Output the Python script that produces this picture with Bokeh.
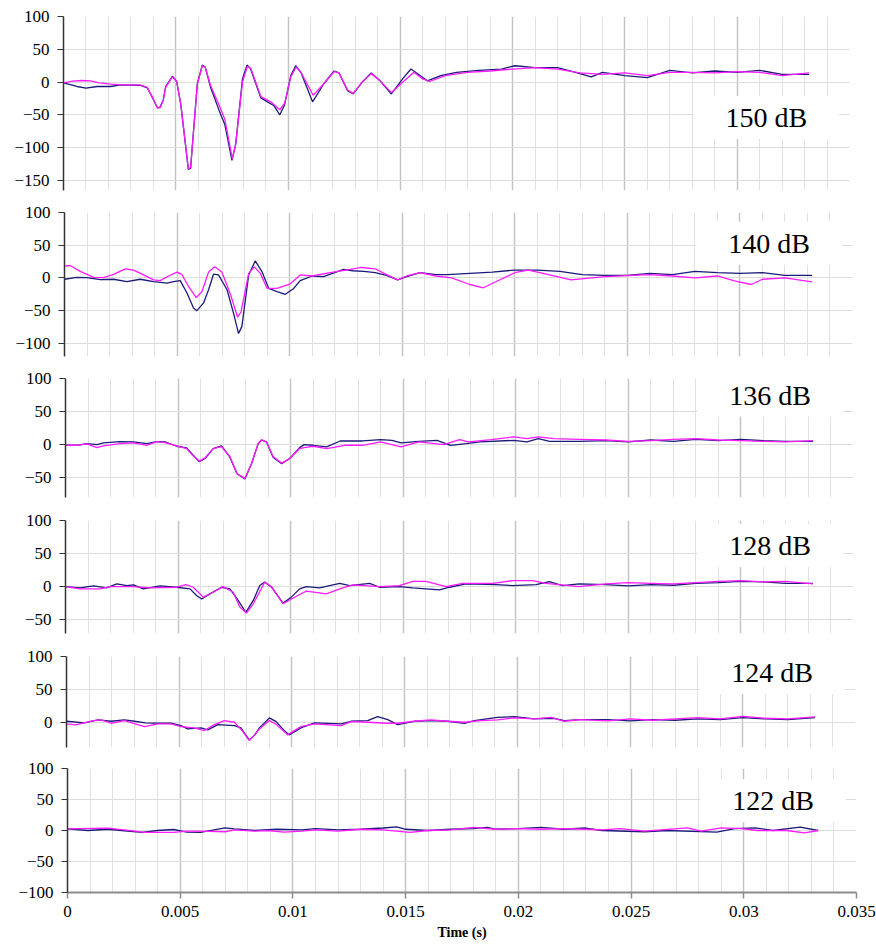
from bokeh.plotting import figure
from bokeh.models import FixedTicker, Label, ColumnDataSource
from bokeh.layouts import column
from bokeh.embed import file_html
from bokeh.resources import INLINE

# ---------------- data ----------------
x_ticks = [0, 0.005, 0.01, 0.015, 0.02, 0.025, 0.03, 0.035]
x_tick_labels = ["0", "0.005", "0.01", "0.015", "0.02", "0.025", "0.03", "0.035"]
panel_labels = ["150 dB", "140 dB", "136 dB", "128 dB", "124 dB", "122 dB"]

t_150_navy = [0, 0.0006, 0.001, 0.0015, 0.0021, 0.00254, 0.00343, 0.00373, 0.00395, 0.00418, 0.0043, 0.00444, 0.00455, 0.00485, 0.00504, 0.00522, 0.00541, 0.00556, 0.00566, 0.00574, 0.00596, 0.00618, 0.00631, 0.00655, 0.00693, 0.00718, 0.0075, 0.00767, 0.00797, 0.00817, 0.00832, 0.00879, 0.00908, 0.00938, 0.00963, 0.00985, 0.01012, 0.01034, 0.01057, 0.01109, 0.0116, 0.01205, 0.01227, 0.01265, 0.0129, 0.0133, 0.0137, 0.0141, 0.0146, 0.0151, 0.01547, 0.0158, 0.0162, 0.0168, 0.0175, 0.0185, 0.0195, 0.0201, 0.021, 0.022, 0.0228, 0.0235, 0.024, 0.025, 0.026, 0.027, 0.028, 0.029, 0.030, 0.031, 0.032, 0.0332]
v_150_navy = [-1, -6.6, -9, -6.6, -6.6, -4, -5, -8.6, -23, -39, -38, -27, -6.6, 9, 1, -33, -89, -133, -131, -96, -2, 26, 23, -8, -43, -64, -119, -94, 5, 26, 21, -24, -30, -36, -50, -34, 10, 25, 15, -30, -2, 17, 14, -13, -18, 0, 14, 2, -18, 5, 20, 12, 2, 10, 15, 18, 20, 25, 22, 22, 15, 8, 15, 10, 7, 18, 14, 17, 15, 18, 12, 12]
t_150_mag = [0, 0.0004, 0.0008, 0.0012, 0.0016, 0.0021, 0.0026, 0.0034, 0.00373, 0.00395, 0.00418, 0.0043, 0.00444, 0.00455, 0.00485, 0.00504, 0.00522, 0.00541, 0.00556, 0.00566, 0.00574, 0.00596, 0.00618, 0.00631, 0.00655, 0.00693, 0.00718, 0.00752, 0.00767, 0.00797, 0.00819, 0.00834, 0.00879, 0.00923, 0.00963, 0.00985, 0.01012, 0.01036, 0.01057, 0.01112, 0.0116, 0.01205, 0.01227, 0.01265, 0.0129, 0.0133, 0.0137, 0.0141, 0.0146, 0.0151, 0.0156, 0.016, 0.0163, 0.017, 0.018, 0.019, 0.02, 0.021, 0.022, 0.023, 0.024, 0.025, 0.026, 0.027, 0.028, 0.029, 0.030, 0.031, 0.032, 0.0332]
v_150_mag = [-1, 1.5, 2.5, 2, -1, -3, -4, -4, -8, -22, -39, -39, -28, -8, 8, 1, -33, -88, -132, -130, -96, -3, 25, 23, -5, -35, -56, -117, -94, 0, 24, 21, -22, -30, -42, -32, 8, 23, 15, -20, -2, 16, 14, -12, -17, 0, 13, 2, -16, 0, 15, 5, 1, 10, 15, 17, 20, 22, 20, 14, 12, 14, 10, 15, 15, 14, 16, 15, 10, 14]

t_140_navy = [0, 0.00055, 0.001, 0.00159, 0.00218, 0.00277, 0.00336, 0.00396, 0.00455, 0.00484, 0.00514, 0.00544, 0.00573, 0.00588, 0.00618, 0.0064, 0.00662, 0.00684, 0.00722, 0.00751, 0.00773, 0.00788, 0.00818, 0.00847, 0.00877, 0.00907, 0.00944, 0.00981, 0.01018, 0.01047, 0.011, 0.0115, 0.012, 0.0124, 0.0128, 0.0133, 0.0138, 0.0143, 0.0148, 0.0152, 0.0158, 0.0165, 0.017, 0.018, 0.019, 0.020, 0.021, 0.022, 0.023, 0.024, 0.025, 0.026, 0.027, 0.028, 0.029, 0.030, 0.031, 0.032, 0.0332]
v_140_navy = [-2, 1, 0.5, -2.5, -2, -5.6, -2, -5.6, -8, -5.6, -4, -23, -46, -50, -38, -18, 6, 4.6, -18, -54, -85, -74, 4.6, 26, 9.7, -16, -21, -25, -16, -4, 3, 2, 8, 13, 11, 10, 8, 4, -3, 2, 8, 5, 5, 7, 9, 12, 12, 10, 5, 4, 4, 7, 5, 10, 8, 7, 8, 4, 4]
t_140_mag = [0, 0.00025, 0.0007, 0.00129, 0.00174, 0.00218, 0.0027, 0.00307, 0.00351, 0.00396, 0.00425, 0.00462, 0.005, 0.00521, 0.00551, 0.00585, 0.0061, 0.0064, 0.00667, 0.00699, 0.00736, 0.00769, 0.00784, 0.00818, 0.00843, 0.0087, 0.009, 0.00944, 0.01003, 0.01047, 0.011, 0.0118, 0.0125, 0.0132, 0.0138, 0.0143, 0.0148, 0.0152, 0.0158, 0.0165, 0.0172, 0.018, 0.0186, 0.0192, 0.02, 0.0206, 0.0215, 0.0225, 0.024, 0.026, 0.027, 0.028, 0.029, 0.0298, 0.0305, 0.031, 0.032, 0.0332]
v_140_mag = [18, 19, 10, 1, 0.5, 5.6, 14, 12, 4.6, -3, -4, 3, 9, 5.6, -13, -30, -21, 9, 17, 9, -24, -60, -52, 7, 17, 7, -16, -16, -9, 4.6, 3, 8, 12, 16, 14, 5, -3, 3, 8, 3, 0, -10, -15, -5, 8, 12, 5, -3, 2, 5, 3, 0, 3, -5, -10, -2, 0, -6]

t_136_navy = [0, 0.0005, 0.00095, 0.0014, 0.00168, 0.00242, 0.00302, 0.00361, 0.00405, 0.00442, 0.00494, 0.00538, 0.00567, 0.00594, 0.0062, 0.00656, 0.00693, 0.0073, 0.00762, 0.00797, 0.00826, 0.00856, 0.00871, 0.00893, 0.00922, 0.0096, 0.00996, 0.0104, 0.0106, 0.011, 0.0116, 0.0122, 0.0132, 0.014, 0.0145, 0.0149, 0.0157, 0.0165, 0.0171, 0.0178, 0.0184, 0.0199, 0.0205, 0.021, 0.0215, 0.0228, 0.024, 0.025, 0.026, 0.027, 0.028, 0.029, 0.030, 0.031, 0.032, 0.0332]
v_136_navy = [-1, -1, 1.5, 0, 2.5, 4.5, 4, 1.5, 4.5, 4, -2.5, -5, -16, -26, -21, -6, -2, -19, -44, -52, -29, 1.5, 6.6, 4, -19, -29, -21, -4.5, 0, -1, -3.5, 5.5, 5.5, 7.6, 6.5, 2.5, 5, 6.5, -1, 1.5, 4, 6.5, 4, 9, 5, 5, 6, 4, 7, 5, 8, 6, 8, 6, 5, 5]
t_136_mag = [0, 0.0005, 0.00095, 0.0014, 0.00168, 0.00242, 0.00302, 0.00361, 0.00405, 0.00442, 0.00494, 0.00538, 0.00567, 0.00594, 0.0062, 0.00656, 0.00693, 0.0073, 0.00762, 0.00797, 0.00826, 0.00856, 0.00871, 0.00893, 0.00922, 0.0096, 0.00996, 0.0104, 0.0106, 0.011, 0.0116, 0.0124, 0.0132, 0.014, 0.0149, 0.0157, 0.0168, 0.0175, 0.0179, 0.0189, 0.0199, 0.0205, 0.021, 0.0217, 0.0228, 0.024, 0.025, 0.026, 0.027, 0.028, 0.029, 0.030, 0.031, 0.032, 0.0332]
v_136_mag = [-1, -1, 1, -4.5, -2, 1.5, 2.5, -1, 4.5, 3, -2, -6, -17, -25, -20, -6, -3, -18, -44, -51, -29, 2, 7.5, 4, -18, -28, -21, -6, -4.5, -2.5, -6, -1, -1, 4, -3.5, 4, 0, 7.6, 4, 7.6, 11.6, 9, 11.6, 9, 8, 7, 5, 6, 8, 9, 7, 6, 5, 4, 6]

t_128_navy = [0, 0.00065, 0.00124, 0.00183, 0.00228, 0.00272, 0.00302, 0.00346, 0.0042, 0.00494, 0.00553, 0.00582, 0.00605, 0.00641, 0.00693, 0.0073, 0.00767, 0.00801, 0.00834, 0.00863, 0.00885, 0.00915, 0.00966, 0.01003, 0.0104, 0.0107, 0.01129, 0.01218, 0.01262, 0.01351, 0.01395, 0.01484, 0.01543, 0.01661, 0.01705, 0.01779, 0.01912, 0.01986, 0.0209, 0.02149, 0.02208, 0.02281, 0.024, 0.025, 0.026, 0.027, 0.028, 0.029, 0.030, 0.031, 0.032, 0.0332]
v_128_navy = [0, -2, 1, -2, 4, 1.5, 2.5, -3.5, 1, -1, -3.5, -13.6, -18.7, -11, -1, -3.5, -21, -39, -21, 1.5, 7, -1, -25, -16, -3.5, 0, -2, 5, 1.5, 5, -1, 0, -2, -5, -1, 4, 3, 1.5, 3, 7.6, 1.5, 4, 3, 1, 3, 2, 5, 6, 8, 7, 5, 5]
t_128_mag = [0, 0.00065, 0.00154, 0.00198, 0.00302, 0.00376, 0.00494, 0.00535, 0.00567, 0.00612, 0.00656, 0.007, 0.00745, 0.00774, 0.00804, 0.00834, 0.00885, 0.00915, 0.00966, 0.0104, 0.0107, 0.01159, 0.01218, 0.01277, 0.01395, 0.01484, 0.01543, 0.01602, 0.0169, 0.01765, 0.01897, 0.01986, 0.02075, 0.02134, 0.02281, 0.024, 0.025, 0.026, 0.027, 0.028, 0.029, 0.030, 0.031, 0.032, 0.0332]
v_128_mag = [0, -3.5, -3.5, 0, 0, -2, -1, 3, -1, -16, -8.6, 0, -8.6, -31, -40, -26, 6.6, 0, -26, -12, -7, -11, -3.5, 2.5, 0, 1.5, 8, 8, 0, 5, 5, 9, 9, 5, 0, 4, 6, 5, 4, 6, 8, 9, 7, 8, 4]

t_124_navy = [0, 0.0008, 0.0014, 0.00198, 0.00257, 0.00301, 0.0035, 0.0042, 0.00464, 0.00508, 0.00538, 0.00597, 0.00627, 0.00671, 0.00745, 0.00774, 0.00795, 0.00811, 0.00835, 0.00856, 0.009, 0.0093, 0.00966, 0.00988, 0.0104, 0.011, 0.01218, 0.01262, 0.01336, 0.0138, 0.01425, 0.01469, 0.01543, 0.01617, 0.01691, 0.01765, 0.01809, 0.01912, 0.01986, 0.02075, 0.02163, 0.02208, 0.02281, 0.024, 0.025, 0.026, 0.027, 0.028, 0.029, 0.030, 0.031, 0.032, 0.0332]
v_124_navy = [2.5, 0, 4.5, 2.5, 4.5, 2.5, 0, -0.5, -0.5, -4, -9, -7.5, -10.5, -2.5, -4, -7.5, -18, -25.5, -18, -7.5, 7.5, 2, -11.5, -18, -7.5, 0, -1.5, 2.5, 3.5, 9.5, 5, -2.5, 2.5, 3.5, 2.5, -0.5, 3.5, 8.5, 9.5, 6, 7, 3.5, 5, 5, 3, 5, 4, 6, 5, 8, 6, 5, 8]
t_124_mag = [0, 0.0004, 0.0012, 0.00154, 0.00198, 0.00257, 0.00346, 0.00405, 0.00464, 0.00508, 0.00567, 0.00612, 0.00656, 0.007, 0.00745, 0.0078, 0.00811, 0.00835, 0.00856, 0.009, 0.0093, 0.00981, 0.0104, 0.011, 0.01218, 0.01262, 0.01336, 0.01425, 0.01469, 0.01543, 0.01617, 0.01691, 0.01765, 0.01838, 0.01912, 0.01986, 0.02075, 0.02149, 0.02208, 0.02281, 0.024, 0.025, 0.026, 0.027, 0.028, 0.029, 0.030, 0.031, 0.032, 0.0332]
v_124_mag = [-1.5, -3, 3.5, 4.5, -0.5, 3.5, -5.5, -1.5, -1.5, -5.5, -7.5, -11.5, -2.5, 3.5, 1, -12, -26.5, -18, -9, 3.5, -2, -18, -5.5, -1.5, -4, 2, 1, -0.5, -0.5, 2.5, 4.5, 2.5, 1, 3.5, 4.5, 7.5, 6, 8.5, 2.5, 5, 3, 6, 4, 6, 8, 6, 10, 7, 6, 9]

t_122_navy = [0, 0.0009, 0.0018, 0.0024, 0.0033, 0.004, 0.0047, 0.0053, 0.0059, 0.0065, 0.007, 0.0074, 0.0083, 0.0093, 0.0104, 0.011, 0.012, 0.013, 0.014, 0.0146, 0.015, 0.016, 0.017, 0.018, 0.0186, 0.019, 0.020, 0.021, 0.022, 0.023, 0.0237, 0.0256, 0.0266, 0.0288, 0.0296, 0.0305, 0.0313, 0.0325, 0.0333]
v_122_navy = [2.7, 0, 2, 0, -3, 0, 1.6, -2.7, -3, 1, 4.3, 2.7, 0, 2, 1, 3, 1, 2, 4, 6, 2, 0, 2, 3, 5, 2, 3, 5, 2, 4, 0, -2, 0, -2.7, 3, 4.3, 0, 5.4, 0]
t_122_mag = [0, 0.0018, 0.003, 0.0034, 0.0047, 0.0053, 0.0059, 0.007, 0.0074, 0.0083, 0.0089, 0.0096, 0.0104, 0.011, 0.012, 0.013, 0.014, 0.0152, 0.016, 0.017, 0.018, 0.019, 0.020, 0.021, 0.022, 0.023, 0.0237, 0.0245, 0.0256, 0.0275, 0.0281, 0.029, 0.0299, 0.0306, 0.0319, 0.0327, 0.0333]
v_122_mag = [2.7, 3.8, -1, -3, -3, -1, -1, -2, 1, -1, 0, -2.7, -1, 1, -1, 2, 1, -3, 0, 1, 5, 2, 3, 2, 3, 2, 1, 3, -1, 4.3, -1, 4.3, 3, 0, 0, -3.8, 0]

series = [
    (t_150_navy, v_150_navy, t_150_mag, v_150_mag),
    (t_140_navy, v_140_navy, t_140_mag, v_140_mag),
    (t_136_navy, v_136_navy, t_136_mag, v_136_mag),
    (t_128_navy, v_128_navy, t_128_mag, v_128_mag),
    (t_124_navy, v_124_navy, t_124_mag, v_124_mag),
    (t_122_navy, v_122_navy, t_122_mag, v_122_mag),
]

# ---------------- layout / style ----------------
y_ranges = [(-165, 100), (-120, 100), (-80, 100), (-71, 100), (-37, 100), (-100, 100)]
y_tick_sets = [[100, 50, 0, -50, -100, -150], [100, 50, 0, -50, -100], [100, 50, 0, -50],
               [100, 50, 0, -50], [100, 50, 0], [100, 50, 0, -50, -100]]
borders_top = [16, 11, 11, 12, 12, 11]
frame_heights = [174, 144, 119, 113, 91, 124]
borders_bottom = [11, 11, 11, 11, 10, 53]
borders_left = [63, 64, 65, 65, 66, 67]
frame_widths = [786, 788, 788, 788, 789, 789]
label_y = [-54, 53, 75, 62, 76, 48]
label_x = 0.0313

minor_x = [round(i * 0.001, 3) for i in range(36) if i % 5 != 0]

NAVY = "#1a1a7a"
MAGENTA = "#ff19ff"
SERIF = "Liberation Serif"

figs = []
for i in range(6):
    tn, vn, tm, vm = series[i]
    p = figure(frame_width=frame_widths[i], frame_height=frame_heights[i],
               x_range=(0, 0.035), y_range=y_ranges[i],
               min_border_left=borders_left[i],
               min_border_right=876 - borders_left[i] - frame_widths[i],
               min_border_top=borders_top[i], min_border_bottom=borders_bottom[i],
               toolbar_location=None, output_backend="svg")
    try:
        p.frame_align = False
    except Exception:
        pass
    p.outline_line_color = None
    p.background_fill_color = "white"

    p.xaxis.ticker = FixedTicker(ticks=x_ticks, minor_ticks=minor_x)
    p.xgrid.grid_line_color = "#c4c4c4"
    p.xgrid.grid_line_width = 1.5
    p.xgrid.minor_grid_line_color = "#e2e2e2"
    p.xgrid.minor_grid_line_width = 1

    p.yaxis.ticker = FixedTicker(ticks=y_tick_sets[i], minor_ticks=[])
    p.ygrid.grid_line_color = "#dcdcdc"
    p.ygrid.grid_line_width = 1
    p.yaxis.axis_line_color = "#333333"
    p.yaxis.axis_line_width = 1.5
    p.yaxis.major_tick_line_color = "#333333"
    p.yaxis.major_tick_in = 0
    p.yaxis.major_tick_out = 6
    p.yaxis.minor_tick_line_color = None
    p.yaxis.major_label_text_font = SERIF
    p.yaxis.major_label_text_font_size = "17px"
    p.yaxis.major_label_text_color = "black"
    p.yaxis.major_label_standoff = 8

    if i < 5:
        p.xaxis.visible = False
    else:
        p.xaxis.axis_line_color = "#8c8c8c"
        p.xaxis.axis_line_width = 2
        p.xaxis.major_tick_line_color = "#8c8c8c"
        p.xaxis.major_tick_line_width = 1.5
        p.xaxis.major_tick_in = 0
        p.xaxis.major_tick_out = 6
        p.xaxis.minor_tick_line_color = None
        p.xaxis.major_label_overrides = dict(zip(x_ticks, x_tick_labels))
        p.xaxis.major_label_text_font = SERIF
        p.xaxis.major_label_text_font_size = "17px"
        p.xaxis.major_label_text_color = "black"
        p.xaxis.major_label_standoff = 7
        p.xaxis.axis_label = "Time (s)"
        p.xaxis.axis_label_text_font = SERIF
        p.xaxis.axis_label_text_font_style = "bold"
        p.xaxis.axis_label_text_font_size = "14px"
        p.xaxis.axis_label_text_color = "black"
        p.xaxis.axis_label_standoff = 5

    src_n = ColumnDataSource(data=dict(t=tn, v=vn))
    src_m = ColumnDataSource(data=dict(t=tm, v=vm))
    p.line("t", "v", source=src_n, line_color=NAVY, line_width=1.3)
    p.line("t", "v", source=src_m, line_color=MAGENTA, line_width=1.3)

    lab = Label(x=label_x, y=label_y[i], text=panel_labels[i],
                text_align="center", text_baseline="middle",
                text_font=SERIF, text_font_size="28px", text_color="black",
                background_fill_color="white", padding=(32, 6))
    p.add_layout(lab)
    figs.append(p)

layout = column(*figs, spacing=0)
open("out.html", "w").write(file_html(layout, INLINE))
